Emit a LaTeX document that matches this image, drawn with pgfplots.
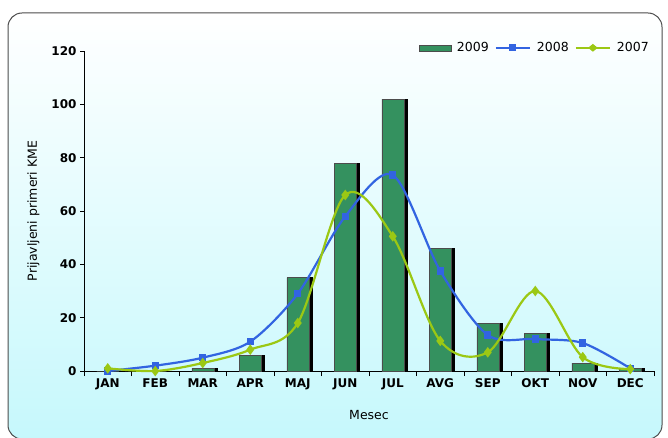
\documentclass[border=0pt]{standalone}
\usepackage{fontspec}
\setmainfont{DejaVu Sans}
\usepackage{pgfplots}
\pgfplotsset{compat=1.18}
\definecolor{bargreen}{RGB}{52,145,95}
\definecolor{lineblue}{RGB}{50,100,225}
\definecolor{linegreen}{RGB}{155,200,20}
\definecolor{bgbottom}{RGB}{198,248,252}
\begin{document}
\begin{tikzpicture}
\useasboundingbox (0pt,0pt) rectangle (668pt,437pt);
\shade[top color=white, bottom color=bgbottom, draw=black!70, line width=1pt, rounded corners=14pt] (8pt,-2pt) rectangle (662pt,424pt);
\begin{axis}[
  at={(84pt,66pt)}, anchor=south west,
  scale only axis, width=570pt, height=320pt,
  xmin=-0.5, xmax=11.5, ymin=0, ymax=120,
  axis x line*=bottom, axis y line*=left,
  axis line style={black, line width=0.8pt},
  xtick={0,...,11},
  xticklabels={JAN,FEB,MAR,APR,MAJ,JUN,JUL,AVG,SEP,OKT,NOV,DEC},
  minor xtick={-0.5,0.5,...,11.5},
  major x tick style={draw=none},
  minor tick length=5pt,
  ytick={0,20,...,120},
  tick align=outside, major tick length=4pt,
  tick style={black, line width=0.8pt},
  tick label style={font=\fontsize{12}{14}\selectfont\bfseries},
  /pgf/number format/assume math mode=true,
  xlabel={Mesec}, ylabel={Prijavljeni primeri KME},
  label style={font=\fontsize{12.5}{15}\selectfont},
  xlabel style={yshift=-14pt},
  ylabel style={yshift=5pt},
  legend style={at={(rel axis cs:1,1.01)}, anchor=east, draw=none, fill=none,
    font=\fontsize{12.5}{15}\selectfont, column sep=4pt},
  legend columns=3,
  clip=false,
]
% shadows
\addplot[ybar, bar width=22pt, bar shift=3pt, fill=black, draw=black, forget plot]
 coordinates {(0,0) (1,0) (2,1) (3,6) (4,35) (5,78) (6,102) (7,46) (8,18) (9,14) (10,3) (11,1)};
\addplot[ybar, bar width=22pt, bar shift=0pt, fill=bargreen, draw=black!70, line width=0.4pt,
  legend image code/.code={\draw[fill=bargreen,draw=black!70] (0pt,-3pt) rectangle (32pt,3pt);}]
 coordinates {(0,0) (1,0) (2,1) (3,6) (4,35) (5,78) (6,102) (7,46) (8,18) (9,14) (10,3) (11,1)};
\addlegendentry{2009}
\addplot[lineblue, line width=2.2pt, smooth, tension=0.5, mark=square*, mark size=2.5pt,
  mark options={fill=lineblue, draw=lineblue},
  legend image code/.code={\draw[lineblue, line width=2.2pt] (0pt,0pt) -- (34pt,0pt); \fill[lineblue] (14pt,-2.5pt) rectangle (19pt,2.5pt);}]
 coordinates {(0,0) (1,2) (2,5) (3,11) (4,29) (5,58) (6,73.5) (7,37.5) (8,13.5) (9,12) (10,10.5) (11,1)};
\addlegendentry{2008}
\addplot[linegreen, line width=2.2pt, smooth, tension=0.55, mark=diamond*, mark size=3.5pt,
  mark options={fill=linegreen, draw=linegreen},
  legend image code/.code={\draw[linegreen, line width=2.2pt] (0pt,0pt) -- (34pt,0pt); \fill[linegreen] (17pt,0pt) +(-3pt,0) -- +(0,2.5pt) -- +(3pt,0) -- +(0,-2.5pt) -- cycle;}]
 coordinates {(0,1) (1,0) (2,3) (3,8) (4,18) (5,66) (6,50.5) (7,11.3) (8,7) (9,30) (10,5.2) (11,0.7)};
\addlegendentry{2007}
\end{axis}
\end{tikzpicture}
\end{document}
